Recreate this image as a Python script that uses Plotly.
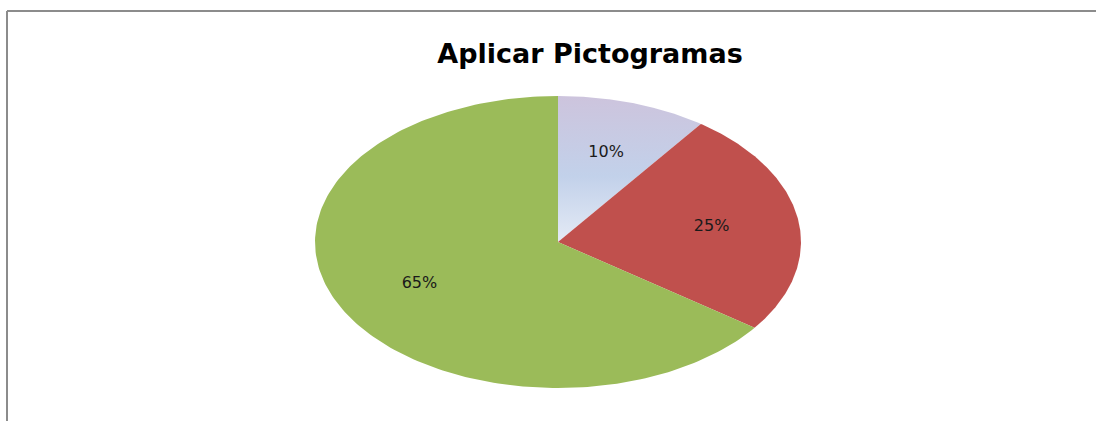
import numpy as np
import plotly.graph_objects as go

title = "Aplicar Pictogramas"
labels = ["A", "B", "C"]
values = [10, 25, 65]
text_labels = ["10%", "25%", "65%"]
colors = ["#C9CCE4", "#C0504D", "#9BBB59"]

W, H = 1096, 421
cx, cy = 558, 242  # pie centre in pixels
rx, ry = 243, 146  # the pie is drawn stretched, as in the original sheet

fig = go.Figure()

total = sum(values)
start = 0.0
for i, v in enumerate(values):
    a0 = start / total * 2 * np.pi
    a1 = (start + v) / total * 2 * np.pi
    t = np.linspace(a0, a1, 200)
    # clockwise from 12 o'clock, unit circle stretched by the axis ranges
    xs = np.concatenate([[0], np.sin(t), [0]])
    ys = np.concatenate([[0], np.cos(t), [0]])
    kw = dict(fillcolor=colors[i])
    if i == 0:
        kw = dict(fillgradient=dict(
            type="vertical",
            colorscale=[[0, "#E4EAF5"], [0.45, "#C2D1EA"], [1, "#CDC4DD"]],
        ))
    fig.add_trace(go.Scatter(x=xs, y=ys, mode="lines", fill="toself",
                             line=dict(width=0, color=colors[i]),
                             hoverinfo="skip", showlegend=False, **kw))
    mid = (a0 + a1) / 2
    fig.add_trace(go.Scatter(x=[0.64 * np.sin(mid)], y=[0.64 * np.cos(mid)],
                             mode="text", text=[text_labels[i]],
                             textfont=dict(family="DejaVu Sans", size=16, color="#1a1a1a"),
                             hoverinfo="skip", showlegend=False))
    start += v

fig.update_layout(
    width=W, height=H,
    margin=dict(l=0, r=0, t=0, b=0),
    paper_bgcolor="white", plot_bgcolor="white",
    xaxis=dict(range=[-cx / rx, (W - cx) / rx], visible=False, fixedrange=True),
    yaxis=dict(range=[-(H - cy) / ry, cy / ry], visible=False, fixedrange=True),
    title=dict(text="<b>" + title + "</b>", x=590 / W, y=1 - 54 / H,
               xanchor="center", yanchor="middle",
               font=dict(family="DejaVu Sans", size=27, color="black")),
    shapes=[
        dict(type="line", xref="paper", yref="paper", x0=7 / W, x1=1, y0=1 - 11 / H, y1=1 - 11 / H,
             line=dict(color="#8c8c8c", width=2)),
        dict(type="line", xref="paper", yref="paper", x0=7 / W, x1=7 / W, y0=0, y1=1 - 11 / H,
             line=dict(color="#8c8c8c", width=2)),
    ],
)

# drop the page's default body margin so the figure sits at the window corner
fig.write_html("out.html", config={"displayModeBar": False},
               post_script="document.body.style.margin='0';")
